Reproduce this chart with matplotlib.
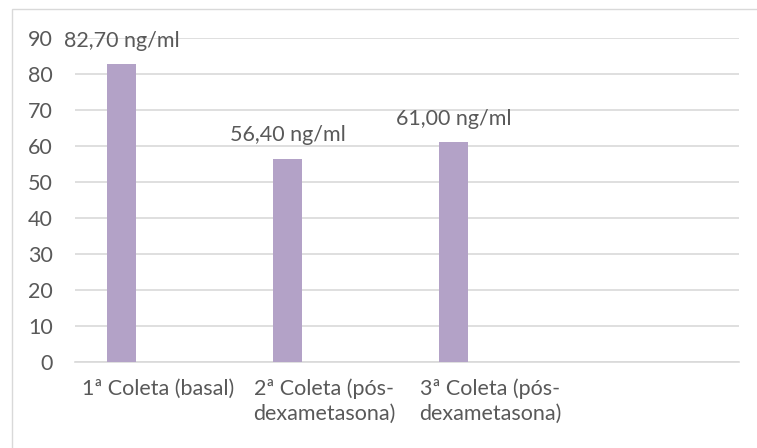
import matplotlib.pyplot as plt
from matplotlib.patches import Rectangle
import numpy as np

CATEGORIES = ["1ª Coleta (basal)", "2ª Coleta (pós-\ndexametasona)", "3ª Coleta (pós-\ndexametasona)", ""]
VALUES = [82.70, 56.40, 61.00]
LABELS = ["82,70 ng/ml", "56,40 ng/ml", "61,00 ng/ml"]

BAR_COLOR = "#B3A2C7"
TEXT_COLOR = "#595959"
GRID_COLOR = "#D9D9D9"

plt.rcParams["font.family"] = ["Lato", "DejaVu Sans"]
FS = 15.5

fig = plt.figure(figsize=(7.57, 4.48), dpi=100)
ax = fig.add_axes([75 / 757, 1 - 362 / 448, 664 / 757, 324 / 448])

# light frame round the chart (left and top edges visible)
fig.patches.append(Rectangle((12 / 757, -0.1), 1.0, 1 - 9.5 / 448 + 0.1,
                             transform=fig.transFigure, fill=False,
                             edgecolor=GRID_COLOR, linewidth=1.0))

x = np.arange(len(CATEGORIES))
bar_x = x[:len(VALUES)] - 0.22
bars = ax.bar(bar_x, VALUES, width=0.175, color=BAR_COLOR, zorder=3)

for bx, v, lab in zip(bar_x, VALUES, LABELS):
    ax.annotate(lab, (bx, v), xytext=(0, 17), textcoords="offset points",
                ha="center", va="center", fontsize=FS, color=TEXT_COLOR, zorder=4)

ax.set_xlim(-0.5, 3.5)
ax.set_ylim(0, 90)
ax.set_yticks(range(0, 91, 10))
ax.set_xticks(x)
ax.set_xticklabels(CATEGORIES, fontsize=FS, color=TEXT_COLOR, linespacing=1.3)
ax.tick_params(axis="y", labelsize=FS, labelcolor=TEXT_COLOR, length=0, pad=16)
ax.tick_params(axis="x", length=0, pad=12)

ax.grid(axis="y", color=GRID_COLOR, linewidth=1.2, zorder=0)
for s in ["top", "right", "left"]:
    ax.spines[s].set_visible(False)
ax.spines["bottom"].set_color(GRID_COLOR)
ax.spines["bottom"].set_linewidth(1.2)

fig.savefig("out.png", dpi=100)
